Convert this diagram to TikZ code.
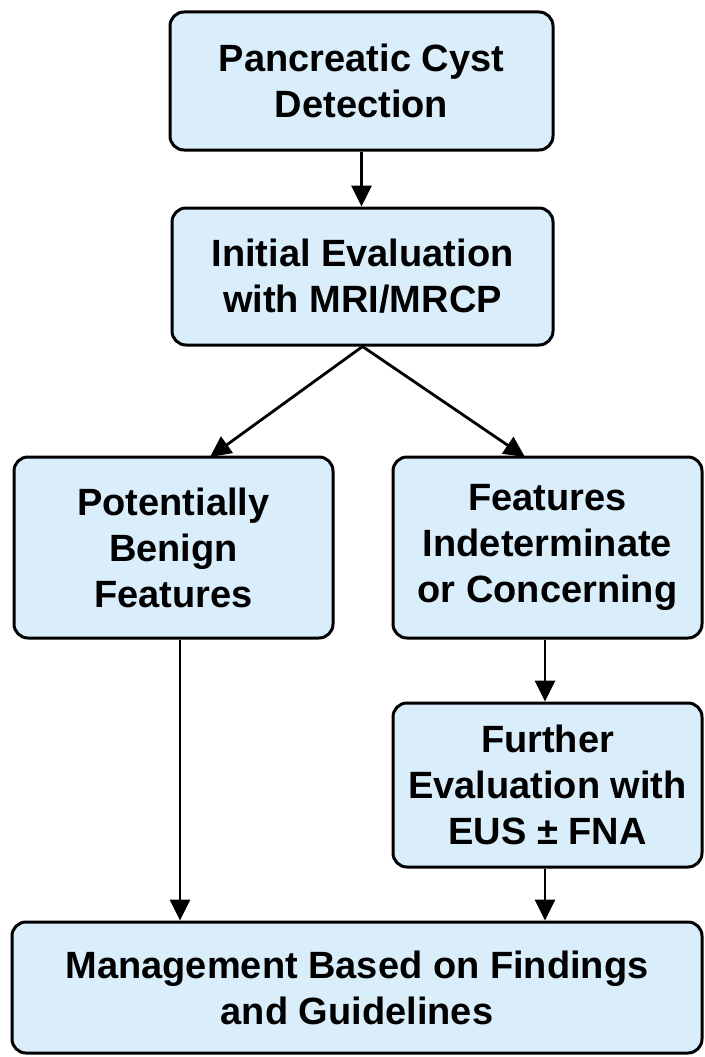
\documentclass[tikz,border=0pt]{standalone}
\usepackage{fontspec}
\setmainfont{Liberation Sans}
\usetikzlibrary{arrows.meta}
\definecolor{boxfill}{HTML}{DAEDFB}
\tikzset{
  box/.style={draw=black, line width=3pt, rounded corners=14pt, fill=boxfill,
    align=center, inner sep=0pt,
    font=\fontsize{38}{46}\selectfont\bfseries},
  conn/.style={line width=2.8pt, -{Triangle[width=20pt,length=21pt]}}
}
\begin{document}
\begin{tikzpicture}[x=1pt,y=-1pt]
\useasboundingbox (0,0) rectangle (704,1057);
\fill[white] (0,0) rectangle (704,1057);
\node[box, minimum width=383pt, minimum height=138pt] (det) at (361.5,81) {Pancreatic Cyst\\Detection};
\node[box, minimum width=381pt, minimum height=137pt] (init) at (362.5,276.5) {Initial Evaluation\\with MRI/MRCP};
\node[box, minimum width=319pt, minimum height=181pt] (ben) at (173.5,547.5) {Potentially\\Benign\\Features};
\node[box, minimum width=309pt, minimum height=181pt] (ind) at (547.5,547.5) {Features\\Indeterminate\\or Concerning};
\node[box, minimum width=309pt, minimum height=164pt] (eus) at (547.5,785) {Further\\Evaluation with\\EUS ± FNA};
\node[box, minimum width=690pt, minimum height=131pt] (man) at (357,987.5) {Management Based on Findings\\and Guidelines};
\coordinate (benin) at (210,457);
\coordinate (indin) at (525,457);
\draw[conn] (det.south) -- (det.south |- init.north);
\draw[conn] (init.south) -- (benin);
\draw[conn] (init.south) -- (indin);
\draw[conn] (ben.south -| 180,0) -- (man.north -| 180,0);
\draw[conn] (ind.south -| 545,0) -- (eus.north -| 545,0);
\draw[conn] (eus.south -| 545,0) -- (man.north -| 545,0);
\end{tikzpicture}
\end{document}
